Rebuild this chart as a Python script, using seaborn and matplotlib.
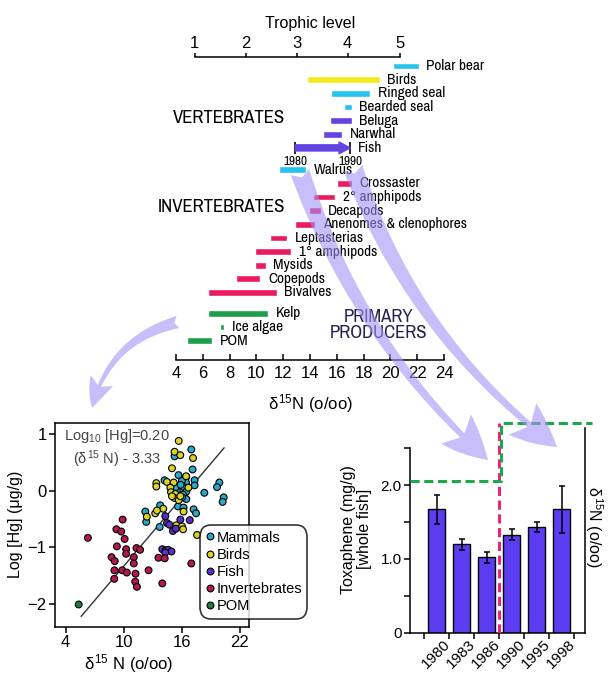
import numpy as np
import pandas as pd
import matplotlib
matplotlib.use('Agg')
import matplotlib.pyplot as plt
import seaborn as sns
from matplotlib import font_manager
from matplotlib.font_manager import FontProperties
from matplotlib.textpath import TextPath
from matplotlib.patches import FancyArrowPatch

sns.set_style('white', {'axes.edgecolor': 'black', 'text.color': 'black',
                        'xtick.color': 'black', 'ytick.color': 'black',
                        'axes.labelcolor': 'black'})
installed = {f.name for f in font_manager.fontManager.ttflist}
NARROW = next((f for f in ['Liberation Sans Narrow', 'Arial Narrow', 'Archivo Narrow',
                           'PT Sans Narrow', 'Roboto Condensed', 'Pragati Narrow']
               if f in installed), 'Liberation Sans')
plt.rcParams['font.family'] = ['Liberation Sans', 'DejaVu Sans']
plt.rcParams['mathtext.fontset'] = 'custom'
plt.rcParams['mathtext.rm'] = 'Liberation Sans'
plt.rcParams['mathtext.it'] = 'Liberation Sans'
plt.rcParams['mathtext.bf'] = 'Liberation Sans:bold'


def fit_size(text, family, width_px):
    # font size (pt) that makes `text` about width_px wide at 100 dpi
    w = TextPath((0, 0), text, size=10, prop=FontProperties(family=family)).get_extents().width
    return 10 * width_px * 0.72 / w


# ---- food web: d15N ranges (o/oo) ----
species = ['Polar bear', 'Birds', 'Ringed seal', 'Bearded seal', 'Beluga', 'Narwhal', 'Fish',
           'Walrus', 'Crossaster', '2° amphipods', 'Decapods', 'Anenomes & clenophores',
           'Leptasterias', '1° amphipods', 'Mysids', 'Copepods', 'Bivalves',
           'Kelp', 'Ice algae', 'POM']
d15n_lo = [20.2, 13.8, 15.6, 16.5, 15.5, 15.0, 12.9, 11.7, 16.0, 14.2, 13.9, 12.9,
           11.0, 9.9, 9.9, 8.5, 6.4, 6.4, 7.3, 4.8]
d15n_hi = [22.1, 19.2, 18.5, 17.1, 17.1, 16.4, 17.0, 13.7, 17.1, 15.9, 14.8, 14.4,
           12.3, 12.6, 10.7, 10.3, 11.5, 10.9, 7.6, 6.7]
web_group = ['mammal', 'bird', 'mammal', 'mammal', 'whale', 'whale', 'fish', 'mammal'] \
    + ['invert'] * 9 + ['producer'] * 3
fish_years = ['1980', '1990']

trophic_levels = ['1', '2', '3', '4', '5']
trophic_d15n = [5.4, 9.2, 13.0, 16.8, 20.7]

# ---- Hg vs d15N ----
mammal_d15n = [17.0, 17.13, 15.27, 15.68, 14.23, 16.48, 17.34, 17.34, 16.45, 16.2, 16.48, 16.14,
               16.48, 15.5, 18.35, 19.9, 19.66, 20.35, 20.24, 15.62, 16.2, 13.78, 17.24, 17.49,
               15.4, 16.03, 12.24, 12.34, 13.73, 16.05, 15.9]
mammal_hg = [0.72, 0.37, 0.60, 0.27, 0.18, 0.24, 0.18, 0.09, 0.14, 0.06, -0.02, -0.07,
             -0.15, 0.0, -0.04, 0.14, 0.06, -0.12, -0.2, -0.28, -0.3, -0.26, -0.33, -0.4,
             0.06, 0.17, -0.37, -0.55, -0.64, -0.12, 0.1]
bird_d15n = [15.7, 15.27, 15.86, 17.18, 15.0, 13.38, 13.38, 14.48, 15.18, 16.46, 14.83, 14.9,
             15.35, 15.25, 15.7, 15.87, 14.1, 13.27, 13.45, 12.4, 16.2, 15.45, 16.04, 16.15,
             17.6, 16.7, 15.0]
bird_hg = [0.87, 0.68, 0.62, 0.57, 0.39, 0.13, 0.07, 0.15, 0.14, 0.25, 0.05, -0.03,
           -0.06, -0.13, -0.17, -0.1, -0.32, -0.40, -0.35, -0.46, -0.37, -0.61, -0.63, -0.68,
           -0.78, 0.05, -0.1]
fish_d15n = [14.31, 14.48, 14.73, 15.87, 16.84, 15.1, 15.4, 14.0, 14.35, 14.6, 14.95, 14.3]
fish_hg = [-0.45, -0.57, -0.6, -0.51, -0.52, -0.71, -0.67, -1.03, -1.05, -1.04, -1.07, -1.09]
invert_d15n = [6.3, 9.9, 9.25, 9.75, 10.1, 9.3, 10.26, 10.26, 11.33, 11.7, 11.05, 11.05,
               8.75, 9.08, 9.05, 9.85, 10.33, 9.03, 11.23, 11.2, 11.37, 12.58, 13.6, 14.25,
               17.0, 14.0]
invert_hg = [-0.83, -0.51, -0.68, -0.72, -0.85, -0.98, -1.03, -1.11, -1.01, -1.04, -1.17, -1.28,
             -1.17, -1.24, -1.40, -1.40, -1.44, -1.55, -1.46, -1.60, -1.69, -1.40, -1.18, -1.19,
             -1.28, -1.63]
pom_d15n = [5.35]
pom_hg = [-2.0]
fit_slope, fit_icept = 0.20, -3.33
fit_x = np.array([5.6, 20.4])

# ---- toxaphene in fish ----
years = ['1980', '1983', '1986', '1990', '1995', '1998']
toxaphene = [1.67, 1.20, 1.02, 1.33, 1.43, 1.67]
tox_err = [0.20, 0.075, 0.072, 0.075, 0.068, 0.32]

W, H = 609, 674
fig = plt.figure(figsize=(W / 100, H / 100), dpi=100)

group_colors = {'mammal': '#27c3ef', 'bird': '#f3ea1b', 'whale': '#6443e3', 'fish': '#6443e3',
                'invert': '#ea1b5f', 'producer': '#1f9e4a'}
lab_size = min(fit_size('Anenomes & clenophores', NARROW, 143), 11)
grp_size = min(fit_size('INVERTEBRATES', NARROW, 130), 13.5)
yr_size = min(fit_size('1980', NARROW, 23), 9.5)

# ================= food web panel =================
ax_web = fig.add_axes([176 / W, 1 - 360 / H, 268 / W, 303.3 / H])
rows = np.arange(len(species)) * 1.015
rows[7:] += 0.6
rows[17:] += 0.53
lo = np.array(d15n_lo)
hi = np.array(d15n_hi)
cols = [group_colors[g] for g in web_group]
is_fish = np.array([s == 'Fish' for s in species])
ax_web.barh(rows[~is_fish], (hi - lo)[~is_fish], left=lo[~is_fish], height=0.5,
            color=[c for c, f in zip(cols, is_fish) if not f])

fi = int(np.where(is_fish)[0][0])
ax_web.annotate('', xy=(hi[fi], rows[fi]), xytext=(lo[fi], rows[fi]),
                arrowprops=dict(arrowstyle='simple,head_width=1.05,head_length=1.0,tail_width=0.55',
                                color=group_colors['fish'], shrinkA=0, shrinkB=0,
                                mutation_scale=8))
ax_web.vlines([lo[fi], hi[fi]], rows[fi] - 0.42, rows[fi] + 0.42, color='black', lw=1.2)
for x, yr in zip([lo[fi], hi[fi]], fish_years):
    ax_web.annotate(yr, (x, rows[fi]), xytext=(0, -9.5), textcoords='offset points',
                    ha='center', va='center', fontsize=yr_size, family=NARROW)

for name, x, r in zip(species, hi, rows):
    ax_web.annotate(name, (x, r), xytext=(5.5, 0), textcoords='offset points',
                    ha='left', va='center', fontsize=lab_size, family=NARROW)

ax_web.text(7.93, 3.84, 'VERTEBRATES', ha='center', va='center', fontsize=grp_size, family=NARROW)
ax_web.text(7.38, 10.5, 'INVERTEBRATES', ha='center', va='center', fontsize=grp_size, family=NARROW)
ax_web.text(19.1, 19.25, 'PRIMARY\nPRODUCERS', ha='center', va='center', fontsize=grp_size,
            family=NARROW, linespacing=0.95, color='#2a2050')

ax_web.set_xlim(4, 24)
ax_web.set_ylim(21.86, -0.69)
ax_web.set_yticks([])
ax_web.set_xticks(range(4, 25, 2))
for s in ['left', 'right', 'top']:
    ax_web.spines[s].set_visible(False)
ax_web.spines['bottom'].set_linewidth(1.1)
ax_web.tick_params(axis='x', bottom=True, direction='in', length=4, width=1.1,
                   labelsize=12, pad=4)
ax_web.set_xlabel(r'$\delta^{15}$N (o/oo)', fontsize=12)
ax_web.xaxis.set_label_coords(0.5, -0.105)
ax_web.patch.set_visible(False)

ax_tl = ax_web.twiny()
ax_tl.set_xlim(4, 24)
ax_tl.set_xticks(trophic_d15n, trophic_levels)
for s in ['left', 'right', 'bottom']:
    ax_tl.spines[s].set_visible(False)
ax_tl.spines['top'].set_bounds(trophic_d15n[0], trophic_d15n[-1])
ax_tl.spines['top'].set_linewidth(1.1)
ax_tl.tick_params(axis='x', top=True, direction='out', length=3, width=1.1, labelsize=12, pad=1)
ax_tl.set_xlabel('Trophic level', fontsize=11.5, labelpad=6)

# ================= Hg scatter =================
hg = pd.concat([
    pd.DataFrame({'d15n': mammal_d15n, 'log_hg': mammal_hg, 'group': 'Mammals'}),
    pd.DataFrame({'d15n': bird_d15n, 'log_hg': bird_hg, 'group': 'Birds'}),
    pd.DataFrame({'d15n': fish_d15n, 'log_hg': fish_hg, 'group': 'Fish'}),
    pd.DataFrame({'d15n': invert_d15n, 'log_hg': invert_hg, 'group': 'Invertebrates'}),
    pd.DataFrame({'d15n': pom_d15n, 'log_hg': pom_hg, 'group': 'POM'}),
], ignore_index=True)
hue_order = ['Mammals', 'Birds', 'Fish', 'Invertebrates', 'POM']
palette = {'Mammals': '#2aa8c9', 'Birds': '#dcd325', 'Fish': '#5a30c8',
           'Invertebrates': '#b5184c', 'POM': '#1d7b47'}

ax_sc = fig.add_axes([55 / W, 1 - 626.7 / H, 194.3 / W, 204 / H])
ax_sc.plot(fit_x, fit_slope * fit_x + fit_icept, color='#333333', lw=1, zorder=2)
sns.scatterplot(data=hg, x='d15n', y='log_hg', hue='group', hue_order=hue_order,
                palette=palette, s=24, edgecolor='black', linewidth=0.8, ax=ax_sc, zorder=3)
ax_sc.set_xlim(2.9, 23.0)
ax_sc.set_ylim(-2.39, 1.19)
ax_sc.set_xticks([4, 10, 16, 22])
ax_sc.set_yticks([-2, -1, 0, 1])
ax_sc.tick_params(bottom=True, left=True, direction='out', length=4, width=1.1,
                  labelsize=12, pad=2)
for s in ax_sc.spines.values():
    s.set_linewidth(1.1)
ax_sc.set_xlabel(r'$\delta^{15}$ N (o/oo)', fontsize=12)
ax_sc.xaxis.set_label_coords(0.38, -0.125)
ax_sc.set_ylabel('Log [Hg] (μg/g)', fontsize=11.5, labelpad=3)
ax_sc.text(0.32, 0.874, 'Log$_{10}$ [Hg]=0.20\n($\\delta^{15}$ N) - 3.33', transform=ax_sc.transAxes,
           ha='center', va='center', fontsize=10.5, color='#444444', linespacing=1.2)
leg = ax_sc.legend(loc='lower left', bbox_to_anchor=(0.745, 0.04), frameon=True, fancybox=True,
                   fontsize=10.5, handletextpad=0.1, labelspacing=0.22, borderpad=0.35,
                   handlelength=0.7, borderaxespad=0)
frame = leg.get_frame()
frame.set_edgecolor('black')
frame.set_linewidth(1.2)
frame.set_boxstyle('round,pad=0,rounding_size=0.8')

# ================= toxaphene bars =================
ax_bar = fig.add_axes([410 / W, 1 - 632.7 / H, 175 / W, 211.1 / H])
sns.barplot(x=years, y=toxaphene, color='#5c3df2', saturation=1, edgecolor='black',
            linewidth=1, width=0.7, ax=ax_bar)
ax_bar.errorbar(np.arange(len(years)), toxaphene, yerr=tox_err, fmt='none', ecolor='black',
                elinewidth=1.1, capsize=2.5, capthick=1.1, zorder=4)
ax_bar.set_xlim(-1.06, 5.94)
ax_bar.set_ylim(0, 2.86)
ax_bar.set_yticks([0, 0.5, 1, 1.5, 2, 2.5], ['0', '', '1.0', '', '2.0', ''])
ax_bar.set_xticks(np.arange(len(years)), years, rotation=45, ha='center')
ax_bar.set_xticks(np.arange(len(years) + 1) - 0.5, minor=True)
ax_bar.tick_params(axis='x', which='major', bottom=True, length=0, labelsize=11, pad=3)
ax_bar.tick_params(axis='x', which='minor', bottom=True, direction='out', length=4, width=1.1)
ax_bar.tick_params(axis='y', left=True, direction='out', length=4, width=1.1, labelsize=11, pad=2)
ax_bar.spines['top'].set_visible(False)
ax_bar.spines['left'].set_bounds(0, 2.5)
ax_bar.spines['right'].set_bounds(0, 2.78)
for s in ax_bar.spines.values():
    s.set_linewidth(1.1)
ax_bar.set_ylabel('Toxaphene (mg/g)\n[whole fish]', fontsize=11.5, linespacing=1.0)
ax_bar.yaxis.set_label_coords(-0.22, 0.49)
ax_bar.vlines(2.5, 0, 2.84, color='#e8257d', lw=2.2, linestyles=(0, (3, 1.5)), zorder=6)

ax_d = ax_bar.twinx()
ax_d.set_ylim(2.26, 17.1)
ax_d.set_yticks([])
for s in ax_d.spines.values():
    s.set_visible(False)
ax_d.plot([-1.06, 2.58, 2.58, 6.22], [lo[fi], lo[fi], hi[fi], hi[fi]], color='#1fa84a',
          lw=2.2, ls=(0, (3, 1.5)), clip_on=False, zorder=5)
ax_d.set_ylabel(r'$\delta^{15}$N (o/oo)', fontsize=11.5, rotation=270, labelpad=14)

# ================= lavender linking arrows =================
def fig_xy(x, y):
    return (x / W, 1 - y / H)

arrows = [((178, 322), (92, 408), 0.3, 'fancy,head_length=0.7,head_width=0.6,tail_width=0.3', 30),
          ((300, 172), (488, 460), 0.13, 'fancy,head_length=0.8,head_width=0.75,tail_width=0.35', 40),
          ((353, 168), (557, 447), 0.15, 'fancy,head_length=0.8,head_width=0.75,tail_width=0.35', 40)]
for start, end, rad, style, ms in arrows:
    fig.add_artist(FancyArrowPatch(fig_xy(*start), fig_xy(*end), transform=fig.transFigure,
                                   connectionstyle=f'arc3,rad={rad}', arrowstyle=style,
                                   mutation_scale=ms, color='#a493f6', alpha=0.6, lw=0,
                                   shrinkA=0, shrinkB=0, zorder=20))

fig.savefig('out.png', dpi=100)
